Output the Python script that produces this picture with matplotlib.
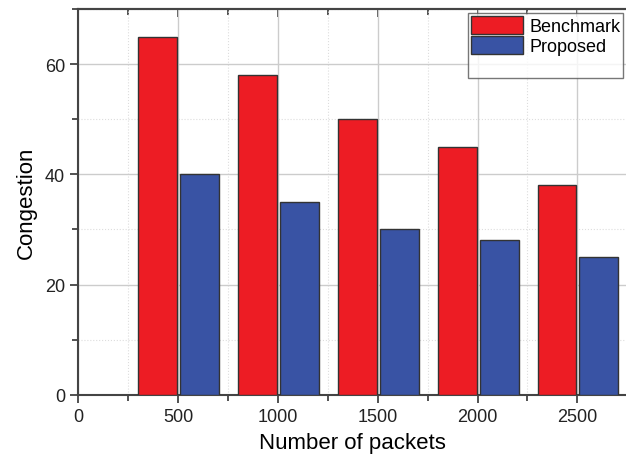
import matplotlib.pyplot as plt
from matplotlib.patches import Rectangle
from matplotlib.ticker import MultipleLocator

plt.rcParams['font.family'] = ['Liberation Sans', 'DejaVu Sans']

packets = [500, 1000, 1500, 2000, 2500]
benchmark = [65, 58, 50, 45, 38]
proposed = [40, 35, 30, 28, 25]

fig = plt.figure(figsize=(6.26, 4.56), dpi=100)
ax = fig.add_axes([0.125, 0.132, 0.877, 0.846])

w = 195
ax.bar([p - 102 for p in packets], benchmark, width=w, color='#ED1C24',
       edgecolor='#333333', linewidth=1, label='Benchmark', zorder=3)
ax.bar([p + 108 for p in packets], proposed, width=w, color='#3953A4',
       edgecolor='#333333', linewidth=1, label='Proposed', zorder=3)

ax.set_xlim(0, 2750)
ax.set_ylim(0, 70)
ax.xaxis.set_major_locator(MultipleLocator(500))
ax.xaxis.set_minor_locator(MultipleLocator(250))
ax.yaxis.set_major_locator(MultipleLocator(20))
ax.yaxis.set_minor_locator(MultipleLocator(10))

ax.grid(which='major', color='#cccccc', linewidth=1, zorder=0)
ax.grid(which='minor', color='#dddddd', linewidth=0.8, linestyle=':', zorder=0)

ax.tick_params(which='both', direction='out', width=1.2, labelsize=13,
               colors='#333333', labelcolor='#222222')
ax.tick_params(which='major', length=6)
ax.tick_params(which='minor', length=4)

# inward ticks along the top edge
top = ax.secondary_xaxis('top')
top.xaxis.set_major_locator(MultipleLocator(500))
top.xaxis.set_minor_locator(MultipleLocator(250))
top.tick_params(which='both', direction='in', width=1.2, colors='#333333',
                labeltop=False)
top.tick_params(which='major', length=6)
top.tick_params(which='minor', length=4)
top.spines['top'].set_linewidth(1.5)
top.spines['top'].set_color('#444444')

for s in ['left', 'bottom', 'top']:
    ax.spines[s].set_linewidth(1.5)
    ax.spines[s].set_color('#444444')
ax.spines['right'].set_visible(False)

ax.set_xlabel('Number of packets', fontsize=16, labelpad=5)
ax.set_ylabel('Congestion', fontsize=16, labelpad=6)

blank = Rectangle((0, 0), 1, 1, fc='none', ec='none')
h, l = ax.get_legend_handles_labels()
leg = ax.legend(h + [blank], l + [' '], loc='upper right',
                bbox_to_anchor=(0.993, 0.99), fontsize=13, frameon=True,
                fancybox=False, edgecolor='#555555', handlelength=2.9,
                handleheight=1.2, handletextpad=0.35, borderpad=0.15,
                labelspacing=0.05, borderaxespad=0)
leg.get_frame().set_linewidth(1)
leg.set_zorder(5)

fig.savefig('out.png', dpi=100)
